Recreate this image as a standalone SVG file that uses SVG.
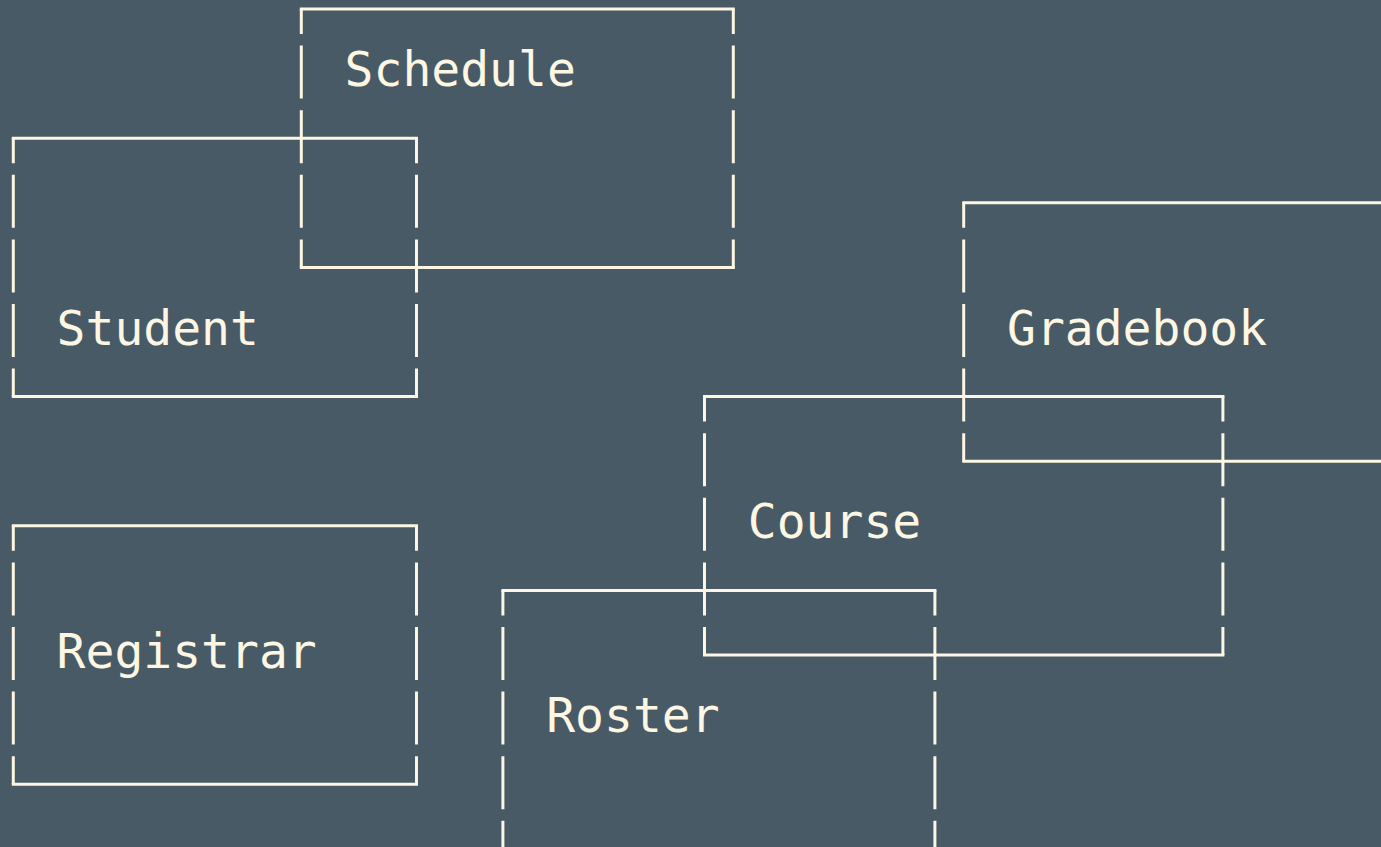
<svg xmlns="http://www.w3.org/2000/svg" width="1381" height="847" viewBox="0 0 1381 847">
<style>
.h{fill:none;stroke:#FDF6E3;stroke-width:3;stroke-linecap:square}
.v{fill:none;stroke:#FDF6E3;stroke-width:3;stroke-dasharray:53 11.6;stroke-dashoffset:28}
.t{font-family:"DejaVu Sans Mono","Liberation Mono",monospace;font-size:48px;fill:#FDF6E3}
</style>
<rect width="1381" height="847" fill="#475A66"/>
<g id="connectors"/>
<g id="schedule">
<path class="h" d="M301.3 9H733.3M301.3 267.4H733.3"/>
<path class="v" d="M301.3 9V267.4M733.3 9V267.4"/>
<text class="t" x="344.6" y="86.1">Schedule</text>
</g>
<g id="student">
<path class="h" d="M13.3 138.2H416.5M13.3 396.6H416.5"/>
<path class="v" d="M13.3 138.2V396.6M416.5 138.2V396.6"/>
<text class="t" x="56.6" y="344.5">Student</text>
</g>
<g id="gradebook">
<path class="h" d="M963.7 202.8H1395.7M963.7 461.2H1395.7"/>
<path class="v" d="M963.7 202.8V461.2M1395.7 202.8V461.2"/>
<text class="t" x="1007" y="344.5">Gradebook</text>
</g>
<g id="course">
<path class="h" d="M704.5 396.6H1222.9M704.5 655H1222.9"/>
<path class="v" d="M704.5 396.6V655M1222.9 396.6V655"/>
<text class="t" x="747.8" y="538.3">Course</text>
</g>
<g id="registrar">
<path class="h" d="M13.3 525.8H416.5M13.3 784.2H416.5"/>
<path class="v" d="M13.3 525.8V784.2M416.5 525.8V784.2"/>
<text class="t" x="56.6" y="667.5">Registrar</text>
</g>
<g id="roster">
<path class="h" d="M502.9 590.4H934.9M502.9 848.8H934.9"/>
<path class="v" d="M502.9 590.4V848.8M934.9 590.4V848.8"/>
<text class="t" x="546.2" y="732.1">Roster</text>
</g>
</svg>
